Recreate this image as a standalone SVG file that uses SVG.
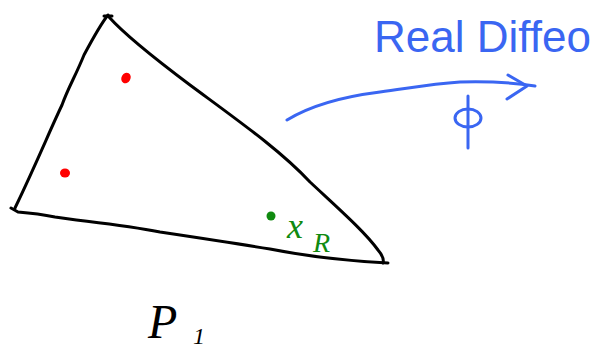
<svg xmlns="http://www.w3.org/2000/svg" width="599" height="351" viewBox="0 0 599 351">
<style>
.ink{fill:none;stroke:#000;stroke-width:3;stroke-linecap:round;stroke-linejoin:round}
.blue{fill:none;stroke:#3a66f2;stroke-width:3;stroke-linecap:round;stroke-linejoin:round}
.bt{fill:#3a66f2;font-family:"Liberation Sans",sans-serif}
.gt{fill:#108a10;font-family:"Liberation Serif",serif;font-style:italic}
.kt{fill:#000;font-family:"Liberation Serif",serif;font-style:italic}
</style>
<rect width="599" height="351" fill="#fff"/>
<g id="triangle">
<path class="ink" d="M108,15 C100,25 92,40 84,55 C76,75 68,88 62,105 C50,130 38,160 15,208"/>
<path class="ink" d="M104,16 L112,16"/>
<path class="ink" d="M109,17 C125,35 150,55 190,85 C240,122 280,150 310,182 C340,210 365,232 378,250 C383,256 384,260 383,263"/>
<path class="ink" d="M11,208 L18,212 C30,213 40,214 55,217 C80,221 120,224 160,232 C200,238 240,244 270,249 C310,257 350,261 388,263"/>
</g>
<g id="red-points">
<ellipse cx="126" cy="78" rx="4.5" ry="5.5" fill="#f00" transform="rotate(30 126 78)"/>
<ellipse cx="65" cy="173" rx="5" ry="4.5" fill="#f00"/>
</g>
<g id="xR">
<circle cx="271" cy="216" r="4.5" fill="#108a10"/>
<text class="gt" x="287" y="238" font-size="36">x</text>
<text class="gt" x="313" y="252" font-size="28">R</text>
</g>
<g id="P1">
<text class="kt" x="148" y="338" font-size="48">P</text>
<text class="kt" x="193" y="344" font-size="24">1</text>
</g>
<g id="connectors">
<path class="blue" d="M287,120 C310,106 340,97 380,92 C410,88 430,84 460,82 C490,81 515,83 535,86"/>
<path class="blue" d="M508,75 L527,86 L507,99"/>
</g>
<g id="phi-label">
<path class="blue" d="M468,96 L468,148"/>
<ellipse class="blue" cx="468" cy="118" rx="13" ry="9"/>
</g>
<g id="real-diffeo">
<text class="bt" x="374" y="52" font-size="44">Real Diffeo</text>
</g>
</svg>
